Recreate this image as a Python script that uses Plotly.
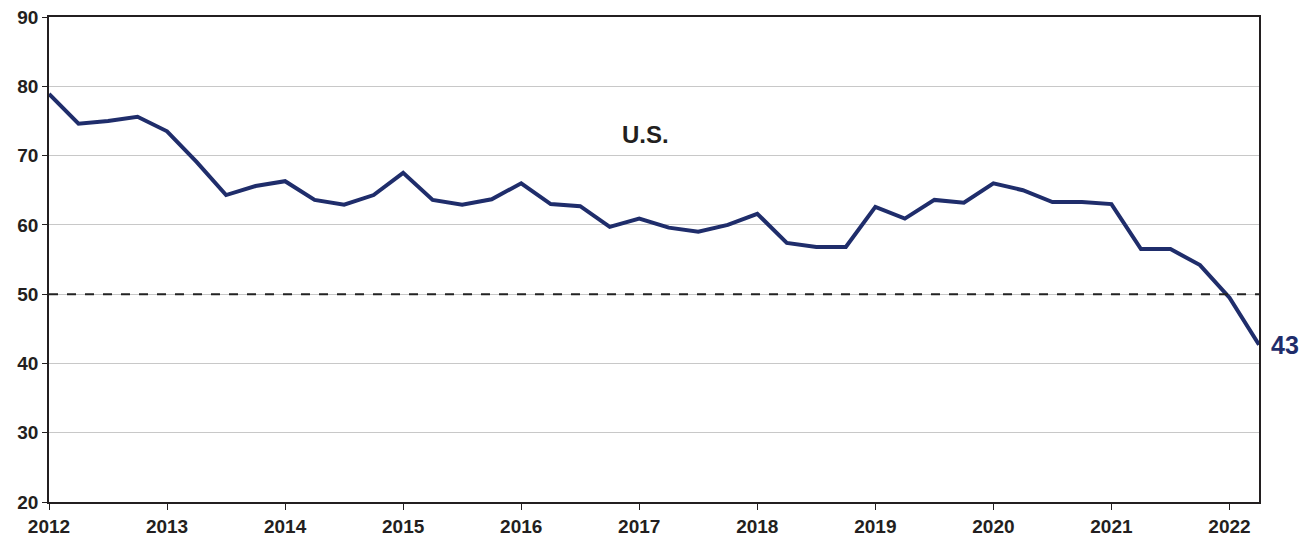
import plotly.graph_objects as go

start_year = 2012
quarters_per_year = 4
values = [78.9, 74.6, 75.0, 75.6, 73.5, 69.1, 64.3, 65.6, 66.3, 63.6, 62.9, 64.3,
          67.5, 63.6, 62.9, 63.7, 66.0, 63.0, 62.7, 59.7, 60.9, 59.6, 59.0, 60.0,
          61.6, 57.4, 56.8, 56.8, 62.6, 60.9, 63.6, 63.2, 66.0, 65.0, 63.3, 63.3,
          63.0, 56.5, 56.5, 54.2, 49.5, 42.7]
x_vals = [start_year + i / quarters_per_year for i in range(len(values))]
tick_years = list(range(2012, 2023))
reference_level = 50
series_label = "U.S."
end_label = "43"

navy = "#1f2d6b"
font_family = "Liberation Sans, Arial, sans-serif"
tick_font = dict(family=font_family, size=19, color="#231f20")

fig = go.Figure()
fig.add_trace(go.Scatter(x=x_vals, y=values, mode="lines",
                         line=dict(color=navy, width=4), showlegend=False,
                         hoverinfo="skip"))
fig.add_shape(type="line", xref="x", yref="y", x0=x_vals[0], x1=x_vals[-1],
              y0=reference_level, y1=reference_level,
              line=dict(color="#222222", width=2, dash="dash"))
fig.add_annotation(x=2017.05, y=73.0, text=f"<b>{series_label}</b>", showarrow=False,
                   font=dict(family=font_family, size=24, color="#231f20"))
fig.add_annotation(x=x_vals[-1], y=values[-1], text=f"<b>{end_label}</b>", showarrow=False,
                   xanchor="left", xshift=10,
                   font=dict(family=font_family, size=25, color=navy))

fig.update_layout(
    width=1306, height=528,
    margin=dict(l=41, r=55, t=9, b=34),
    paper_bgcolor="white", plot_bgcolor="white",
    font=dict(family=font_family, size=19, color="#231f20"),
)
fig.update_xaxes(range=[x_vals[0], x_vals[-1]], tickvals=tick_years,
                 ticktext=[f"<b>{y}</b>" for y in tick_years], tickfont=tick_font,
                 showgrid=False, showline=True, linecolor="#231f20", linewidth=2,
                 mirror=True, ticks="outside", ticklen=6, tickcolor="#231f20",
                 zeroline=False, automargin=False, ticklabeloverflow="allow")
fig.update_yaxes(range=[20, 90], tickvals=list(range(20, 91, 10)),
                 ticktext=[f"<b>{v}</b>" for v in range(20, 91, 10)], tickfont=tick_font,
                 showgrid=True, gridcolor="#c8c8c8", gridwidth=1.2,
                 showline=True, linecolor="#231f20", linewidth=1.5, mirror=True,
                 ticks="outside", ticklen=5, tickcolor="#231f20", zeroline=False,
                 automargin=False, ticklabeloverflow="allow")

fig.write_html("out.html")
